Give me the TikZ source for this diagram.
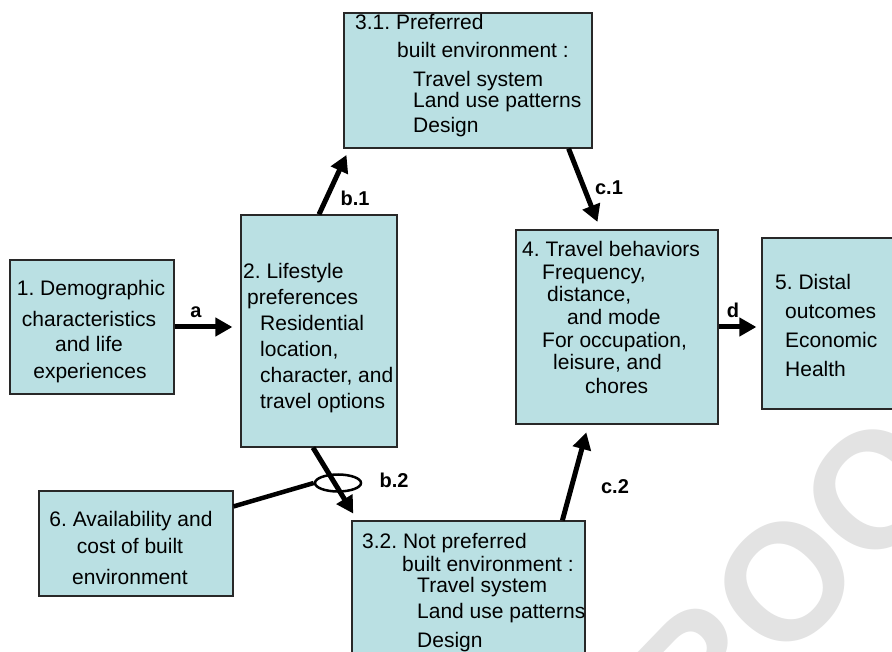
\documentclass[tikz,border=0pt]{standalone}
\usepackage{fontspec}
\setmainfont{Liberation Sans}
\usetikzlibrary{arrows.meta,shapes.geometric}
\definecolor{boxfill}{RGB}{186,224,227}
\definecolor{boxline}{RGB}{40,40,40}
\definecolor{wmark}{RGB}{227,227,227}
\frenchspacing
\begin{document}
\begin{tikzpicture}[x=1pt,y=-1pt,
  box/.style={draw=boxline, fill=boxfill, line width=1.2pt, rectangle, inner sep=0pt},
  txt/.style={anchor=base west, inner sep=0pt, font=\fontsize{21}{25}\selectfont},
  ctxt/.style={anchor=base, inner sep=0pt, font=\fontsize{21}{25}\selectfont},
  lab/.style={inner sep=0pt, font=\fontsize{20}{24}\selectfont\bfseries},
  arr/.style={line width=5pt, -{Triangle[length=17pt,width=18pt]}},
]
\useasboundingbox (0,0) rectangle (892,652);
\clip (0,0) rectangle (892,652);
\fill[white] (0,0) rectangle (892,652);

% watermark
\node[rotate=46, text=wmark, inner sep=0pt, font=\fontsize{165}{165}\selectfont\bfseries] (wm) at (785,582) {PROOF};

% boxes
\node[box, minimum width=248pt, minimum height=135pt] (b31) at (468,80.5) {};
\node[box, minimum width=164pt, minimum height=134pt] (b1) at (92,327) {};
\node[box, minimum width=156pt, minimum height=232pt] (b2) at (319,331) {};
\node[box, minimum width=202pt, minimum height=194pt] (b4) at (617,327) {};
\node[box, minimum width=148pt, minimum height=171pt] (b5) at (836,323.5) {};
\node[box, minimum width=194pt, minimum height=105pt] (b6) at (136,543.5) {};
\node[box, minimum width=233pt, minimum height=149pt] (b32) at (468.5,595.5) {};

% box 3.1 text
\node[txt] (t31a) at (355,30) {3.1. Preferred};
\node[txt] (t31b) at (397,58) {built environment :};
\node[txt] (t31c) at (413,87) {Travel system};
\node[txt] (t31d) at (413,108) {Land use patterns};
\node[txt] (t31e) at (413,133) {Design};

% box 1 text
\node[ctxt] (t1a) at (91,296) {1. Demographic};
\node[ctxt] (t1b) at (89,327) {characteristics};
\node[ctxt] (t1c) at (89,352) {and life};
\node[ctxt] (t1d) at (90,378) {experiences};

% box 2 text
\node[txt] (t2a) at (243,279) {2. Lifestyle};
\node[txt] (t2b) at (247,305) {preferences};
\node[txt] (t2c) at (260,331) {Residential};
\node[txt] (t2d) at (260,356) {location,};
\node[txt] (t2e) at (260,382) {character, and};
\node[txt] (t2f) at (260,409) {travel options};

% box 4 text
\node[txt] (t4a) at (522,257) {4. Travel behaviors};
\node[txt] (t4b) at (542,280) {Frequency,};
\node[txt] (t4c) at (547,302) {distance,};
\node[txt] (t4d) at (567,325) {and mode};
\node[txt] (t4e) at (542,348) {For occupation,};
\node[txt] (t4f) at (553,370) {leisure, and};
\node[txt] (t4g) at (585,393) {chores};

% box 5 text
\node[txt] (t5a) at (775,290) {5. Distal};
\node[txt] (t5b) at (785,319) {outcomes};
\node[txt] (t5c) at (785,348) {Economic};
\node[txt] (t5d) at (785,377) {Health};

% box 6 text
\node[ctxt] (t6a) at (131,526) {6. Availability and};
\node[ctxt] (t6b) at (130,553) {cost of built};
\node[ctxt] (t6c) at (130,584) {environment};

% box 3.2 text
\node[txt] (t32a) at (362,548) {3.2. Not preferred};
\node[txt] (t32b) at (402,571) {built environment :};
\node[txt] (t32c) at (417,592) {Travel system};
\node[txt] (t32d) at (417,618) {Land use patterns};
\node[txt] (t32e) at (417,647) {Design};

% connectors
\draw[arr, shorten >=8pt] (b1.east) -- (b1.east -| b2.west);
\draw[arr, shorten >=5pt] (b4.east) -- (b4.east -| b5.west);
\draw[arr, shorten >=7pt] (b2.north) -- ([xshift=6pt]b31.south west);
\draw[arr, shorten >=8pt] ([xshift=-24pt]b31.south east) -- ([xshift=85pt]b4.north west);
\draw[arr, shorten >=8pt] ([xshift=-6pt]b2.south) -- ([xshift=6pt]b32.north west);
\draw[arr, shorten >=8pt] ([xshift=211pt]b32.north west) -- ([xshift=73pt]b4.south west);

\node[draw, ellipse, line width=2.5pt, minimum width=46pt, minimum height=17pt, inner sep=0pt] (ring) at (338,483) {};
\draw[line width=4.5pt] ([yshift=-16pt]b6.north east) -- (ring.west);

% labels
\node[lab] (la) at (196,312) {a};
\node[lab] (lb1) at (355,198) {b.1};
\node[lab] (lc1) at (609,188) {c.1};
\node[lab] (ld) at (733,310) {d};
\node[lab] (lb2) at (394,480) {b.2};
\node[lab] (lc2) at (615,487) {c.2};
\end{tikzpicture}
\end{document}
